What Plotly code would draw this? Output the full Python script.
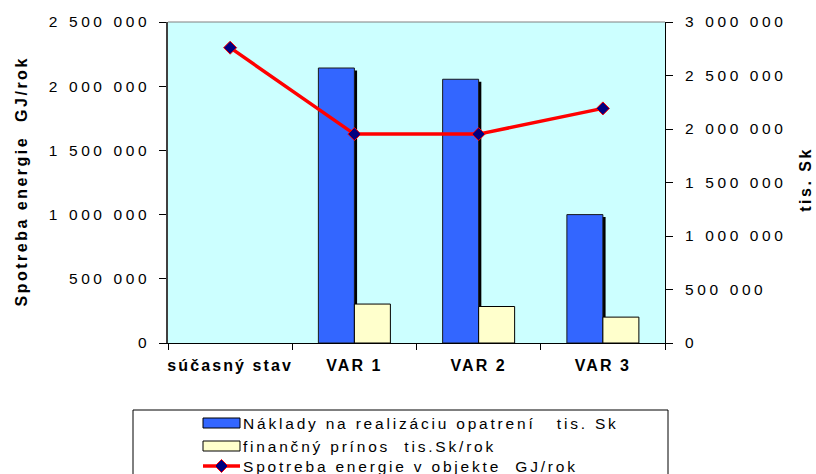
import plotly.graph_objects as go

# ---------------- data ----------------
categories = ["súčasný stav", "VAR 1", "VAR 2", "VAR 3"]
naklady = [None, 2570000, 2465000, 1200000]        # Náklady na realizáciu opatrení, tis. Sk
prinos = [None, 364000, 341000, 242000]            # finančný prínos, tis. Sk/rok
spotreba = [2300000, 1627000, 1627000, 1827000]    # Spotreba energie v objekte, GJ/rok

left_range = [0, 2500000]
right_range = [0, 3000000]
tick_step = 500000

legend_labels = [
    "Náklady na realizáciu opatrení\u00a0\u00a0 tis. Sk",
    "finančný prínos\u00a0 tis.Sk/rok",
    "Spotreba energie v objekte\u00a0 GJ/rok",
]
left_title = "Spotreba energie\u00a0 GJ/rok"
right_title = "tis. Sk"

# ---------------- style / geometry ----------------
W, H = 816, 474
ML, MR, MT, MB = 168, 151, 22, 131
PW, PH = W - ML - MR, H - MT - MB
FONT = "Liberation Sans, Arial, sans-serif"
BLUE = "#3366FF"
YELLOW = "#FFFFCC"
BG = "#CCFFFF"
RED = "#FF0000"
NAVY = "#000080"

cat_px = PW / len(categories)
bw = 36 / cat_px                  # bar width in category units
sh_dx = 2.7 / cat_px              # shadow offset (x)
sh_dy = 2.5 * (right_range[1] - right_range[0]) / PH   # shadow offset (value units)


def px_x(px):
    return (px - ML) / PW


def px_y(py):
    return (MT + PH - py) / PH


shadow = [None if v is None else v - sh_dy for v in naklady]

fig = go.Figure()
fig.add_trace(go.Bar(x=categories, y=shadow, width=bw, offset=-bw + sh_dx,
                     marker=dict(color="black", line=dict(width=0)),
                     yaxis="y2", hoverinfo="skip", showlegend=False))
fig.add_trace(go.Bar(x=categories, y=naklady, width=bw, offset=-bw,
                     marker=dict(color=BLUE, line=dict(color="#1a1a1a", width=1)),
                     yaxis="y2", name=legend_labels[0], showlegend=False))
fig.add_trace(go.Bar(x=categories, y=prinos, width=bw, offset=0,
                     marker=dict(color=YELLOW, line=dict(color="black", width=1)),
                     yaxis="y2", name=legend_labels[1], showlegend=False))
fig.add_trace(go.Scatter(x=categories, y=spotreba, mode="lines+markers",
                         line=dict(color=RED, width=3.5),
                         marker=dict(symbol="diamond", size=10, color=NAVY,
                                     line=dict(color=RED, width=1)),
                         yaxis="y", name=legend_labels[2], showlegend=False))

shapes = []
# top border of plot area
shapes.append(dict(type="line", xref="paper", yref="paper", x0=0, x1=1, y0=1, y1=1,
                   line=dict(color="#808080", width=1)))
# legend box
shapes.append(dict(type="rect", xref="paper", yref="paper",
                   x0=px_x(133), x1=px_x(668), y0=px_y(410), y1=px_y(520),
                   line=dict(color="black", width=1), fillcolor="white", layer="above"))
rows_y = [423, 446, 466]
sw_x0, sw_x1 = 203, 240
shapes.append(dict(type="rect", xref="paper", yref="paper",
                   x0=px_x(sw_x0), x1=px_x(sw_x1), y0=px_y(rows_y[0] - 5), y1=px_y(rows_y[0] + 5),
                   line=dict(color="black", width=1), fillcolor=BLUE, layer="above"))
shapes.append(dict(type="rect", xref="paper", yref="paper",
                   x0=px_x(sw_x0), x1=px_x(sw_x1), y0=px_y(rows_y[1] - 5), y1=px_y(rows_y[1] + 5),
                   line=dict(color="black", width=1), fillcolor=YELLOW, layer="above"))
shapes.append(dict(type="line", xref="paper", yref="paper",
                   x0=px_x(sw_x0), x1=px_x(sw_x1), y0=px_y(rows_y[2]), y1=px_y(rows_y[2]),
                   line=dict(color=RED, width=3.5), layer="above"))
cx, cy, r = (sw_x0 + sw_x1) / 2, rows_y[2], 6.5
shapes.append(dict(type="path", xref="paper", yref="paper",
                   path=(f"M{px_x(cx - r)},{px_y(cy)} L{px_x(cx)},{px_y(cy - r)} "
                         f"L{px_x(cx + r)},{px_y(cy)} L{px_x(cx)},{px_y(cy + r)} Z"),
                   line=dict(color=RED, width=1), fillcolor=NAVY, layer="above"))

annotations = []
annotations.append(dict(text=left_title, xref="paper", yref="paper", x=px_x(21), y=px_y(181.5),
                        xanchor="center", yanchor="middle", textangle=-90, showarrow=False,
                        font=dict(family=FONT, size=16, color="black", weight="bold")))
annotations.append(dict(text=right_title, xref="paper", yref="paper", x=px_x(805), y=px_y(180),
                        xanchor="center", yanchor="middle", textangle=-90, showarrow=False,
                        font=dict(family=FONT, size=16, color="black", weight="bold")))
for lab, yy in zip(legend_labels, rows_y):
    annotations.append(dict(text=lab, xref="paper", yref="paper", x=px_x(242), y=px_y(yy),
                            xanchor="left", yanchor="middle", align="left", showarrow=False,
                            borderpad=0,
                            font=dict(family=FONT, size=15.5, color="black")))

tickfont = dict(family=FONT, size=15.5, color="black")
fig.update_layout(
    width=W, height=H,
    margin=dict(l=ML, r=MR, t=MT, b=MB, pad=0),
    paper_bgcolor="white", plot_bgcolor=BG,
    separators=", ",
    barmode="overlay",
    showlegend=False,
    xaxis=dict(type="category", categoryorder="array", categoryarray=categories,
               range=[-0.5, len(categories) - 0.5], showline=True, linecolor="black",
               linewidth=1, ticks="outside", tickson="boundaries", ticklen=6,
               tickcolor="black", showgrid=False, ticklabelstandoff=8,
               tickfont=dict(family=FONT, size=16, color="black", weight="bold")),
    yaxis2=dict(side="right", anchor="x", range=right_range, dtick=tick_step, tick0=0,
                tickformat=",d", showline=True, linecolor="black", linewidth=1,
                ticks="outside", ticklen=7, tickcolor="black", showgrid=False,
                zeroline=False, tickfont=tickfont, ticklabelstandoff=9),
    yaxis=dict(overlaying="y2", side="left", range=left_range, dtick=tick_step, tick0=0,
               tickformat=",d", showline=True, linecolor="#404040", linewidth=1.5,
               ticks="outside", ticklen=7, tickcolor="black", showgrid=False,
               zeroline=False, tickfont=tickfont, ticklabelstandoff=6),
    shapes=shapes,
    annotations=annotations,
)

css = (
    "html,body{margin:0;padding:0;overflow:hidden;}"
    ".xtick text{letter-spacing:2.1px;}"
    ".ytick text,.y2tick text{letter-spacing:3.6px;}"
    "g.annotation text{letter-spacing:2.8px;}"
    "g.annotation[data-index='0'] text,g.annotation[data-index='1'] text{letter-spacing:2.5px;}"
)
post = ("var s=document.createElement('style');s.innerHTML=\"" + css +
        "\";document.head.appendChild(s);")

fig.write_html("out.html", post_script=post, config={"displayModeBar": False})
